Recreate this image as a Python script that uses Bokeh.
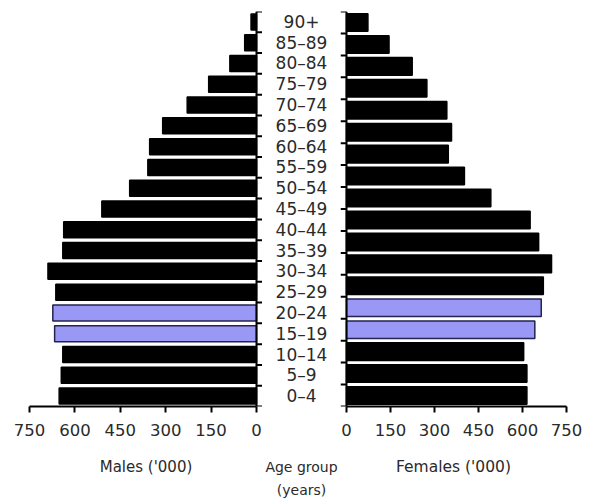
import math
from bokeh.plotting import figure
from bokeh.models import ColumnDataSource, Range1d, FixedTicker, Title
from bokeh.layouts import row
from bokeh.embed import file_html
from bokeh.resources import INLINE

# ---- data (youngest first) ----
age_groups = ["0–4", "5–9", "10–14", "15–19", "20–24", "25–29", "30–34",
              "35–39", "40–44", "45–49", "50–54", "55–59", "60–64", "65–69",
              "70–74", "75–79", "80–84", "85–89", "90+"]
males = [652, 645, 640, 667, 673, 663, 689, 640, 637, 511, 419, 359, 353,
         310, 229, 158, 88, 39, 18]

female_groups = ["0–4", "5–9", "10–14", "15–19", "20–24", "25–29", "30–34",
                 "35–39", "40–44", "45–49", "50–54", "55–59", "60–64",
                 "65–69", "70–74", "75–79", "80–84", "85+"]
females = [615, 615, 604, 642, 664, 671, 699, 655, 626, 492, 402, 347, 358,
           342, 274, 224, 145, 73]

highlight = ["15–19", "20–24"]
x_ticks = [0, 150, 300, 450, 600, 750]
X_MAX = 750

FONT = "DejaVu Sans"
TXT = "#2a2a2a"
BLACK = "#000000"
BLUE = "#9999f5"
NAVY = "#23234d"
H = 500
TICK = 6          # px, length of the band-edge ticks
PLOT_L = 227      # px, width of the males scale (750 .. 0)
PLOT_R = 220      # px, width of the females scale (0 .. 750)


def colors(groups):
    fill = [BLUE if g in highlight else BLACK for g in groups]
    line = [NAVY if g in highlight else BLACK for g in groups]
    return fill, line


def slots(groups):
    # band centre of each group, in band units (0 = bottom edge)
    return [i + 0.5 for i in range(len(groups))]


def style_bottom(ax, label, label_size="15px"):
    ax.ticker = FixedTicker(ticks=x_ticks)
    ax.bounds = (0, X_MAX)
    ax.axis_line_width = 2
    ax.axis_line_color = BLACK
    ax.major_tick_line_width = 2
    ax.major_tick_line_color = BLACK
    ax.major_tick_out = 6
    ax.major_tick_in = 0
    ax.minor_tick_line_color = None
    ax.major_label_text_font = FONT
    ax.major_label_text_font_size = "16.5px"
    ax.major_label_text_color = TXT
    ax.major_label_standoff = 11
    ax.axis_label = label
    ax.axis_label_text_font = FONT
    ax.axis_label_text_font_size = label_size
    ax.axis_label_text_font_style = "normal"
    ax.axis_label_text_color = TXT
    ax.axis_label_standoff = 19


def band_rule(p, n, angle):
    # vertical rule at value 0 with a tick at every band boundary
    edges = list(range(n + 1))
    p.segment(x0=[0], y0=[0], x1=[0], y1=[n], line_color=BLACK,
              line_width=2)
    p.ray(x=[0] * len(edges), y=edges, length=TICK, length_units="screen",
          angle=angle, line_color=BLACK, line_width=2)


# ---- left: males ----
mf, ml = colors(age_groups)
src_m = ColumnDataSource(dict(y=slots(age_groups), v=males, fill=mf, line=ml))
left = figure(width=29 + PLOT_L + TICK, height=H,
              y_range=Range1d(0, len(age_groups)),
              x_range=Range1d(X_MAX, -X_MAX * TICK / PLOT_L),
              output_backend="svg", toolbar_location=None,
              y_axis_location=None,
              min_border_left=29, min_border_right=0, min_border_top=8,
              min_border_bottom=93)
left.hbar(y="y", left=0, right="v", height=0.77, source=src_m,
          fill_color="fill", line_color="line", line_width=1.5)
band_rule(left, len(age_groups), 0)
style_bottom(left.xaxis[0], "Males ('000)")

# ---- middle: age group labels ----
mid = figure(width=78, height=H, y_range=left.y_range, x_range=Range1d(0, 1),
             output_backend="svg", toolbar_location=None,
             y_axis_location=None, min_border_left=0, min_border_right=0,
             min_border_top=8, min_border_bottom=93)
src_l = ColumnDataSource(dict(x=[0.5] * len(age_groups), y=slots(age_groups),
                              t=age_groups))
mid.text(x="x", y="y", text="t", source=src_l, text_align="center",
         text_baseline="middle", text_font={"value": FONT},
         text_font_size="17px", text_color=TXT)
ax = mid.xaxis[0]
style_bottom(ax, "Age group", "14px")
ax.ticker = FixedTicker(ticks=[])
ax.axis_line_color = None
ax.major_tick_line_color = None
ax.axis_label_standoff = 52
mid.add_layout(Title(text="(years)", align="center", text_font=FONT,
                     text_font_size="14px", text_font_style="normal",
                     text_color=TXT, standoff=5), "below")

# ---- right: females ----
ff, fl = colors(female_groups)
src_f = ColumnDataSource(dict(y=slots(female_groups), v=females, fill=ff,
                              line=fl))
right = figure(width=TICK + PLOT_R + 22, height=H,
               y_range=Range1d(0, len(female_groups)),
               x_range=Range1d(-X_MAX * TICK / PLOT_R, X_MAX),
               output_backend="svg", toolbar_location=None,
               y_axis_location=None,
               min_border_left=0, min_border_right=22, min_border_top=11,
               min_border_bottom=90)
right.hbar(y="y", left=0, right="v", height=0.8, source=src_f,
           fill_color="fill", line_color="line", line_width=1.5)
band_rule(right, len(female_groups), math.pi)
style_bottom(right.xaxis[0], "Females ('000)", "15.5px")

for p in (left, mid, right):
    p.outline_line_color = None
    p.xgrid.visible = False
    p.ygrid.visible = False
    p.background_fill_color = "white"
    p.border_fill_color = "white"

layout = row(left, mid, right)
open("out.html", "w").write(file_html(layout, INLINE))
